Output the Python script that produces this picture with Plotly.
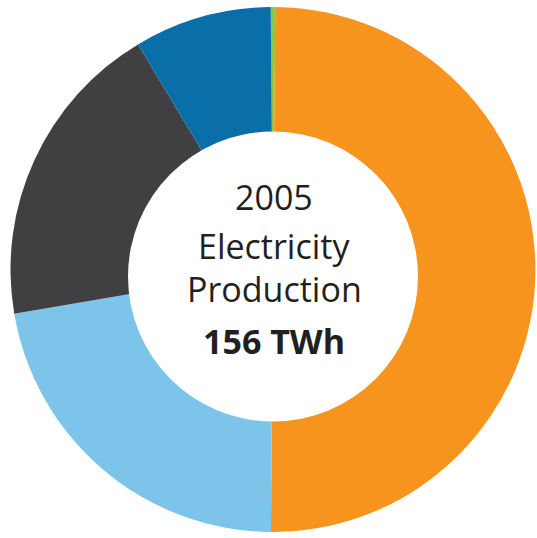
import plotly.graph_objects as go

labels = ["Renewables", "Coal", "Hydro", "Natural gas", "Oil"]
values_twh = [0.43, 78.0, 34.6, 29.8, 13.2]
colors = ["#8DC63F", "#F7941E", "#7DC4EB", "#404042", "#0A6EA8"]

year_text = "2005"
title_lines = ["Electricity", "Production"]
total_text = "156 TWh"

W, H = 537, 538

fig = go.Figure(go.Pie(
    labels=labels,
    values=values_twh,
    marker=dict(colors=colors, line=dict(width=0)),
    sort=False,
    direction="clockwise",
    rotation=-0.5,
    hole=0,
    textinfo="none",
    hoverinfo="label+value",
    showlegend=False,
    domain=dict(x=[10.5 / W, 535.5 / W], y=[1 - 532 / H, 1 - 7 / H]),
))

# white centre (hole)
cx, cy, r = 273, 276.5, 145
fig.add_shape(type="circle", xref="paper", yref="paper",
              x0=(cx - r) / W, x1=(cx + r) / W,
              y0=1 - (cy + r) / H, y1=1 - (cy - r) / H,
              fillcolor="white", line=dict(width=0), layer="above")

font = "Open Sans, Noto Sans, sans-serif"
txt_color = "#231F20"
rows = [(year_text, 197, False), (title_lines[0], 246, False),
        (title_lines[1], 289, False), (total_text, 341, True)]
for t, y, bold in rows:
    fig.add_annotation(x=274 / W, y=1 - y / H, xref="paper", yref="paper",
                       text=f"<b>{t}</b>" if bold else t, showarrow=False,
                       xanchor="center", yanchor="middle",
                       font=dict(family=font, size=34, color=txt_color))

fig.update_layout(width=W, height=H, margin=dict(l=0, r=0, t=0, b=0),
                  paper_bgcolor="white", plot_bgcolor="white")
fig.write_html("out.html",
               config={"displayModeBar": False},
               post_script="document.body.style.margin='0px';"
                           "document.body.style.overflow='hidden';")
